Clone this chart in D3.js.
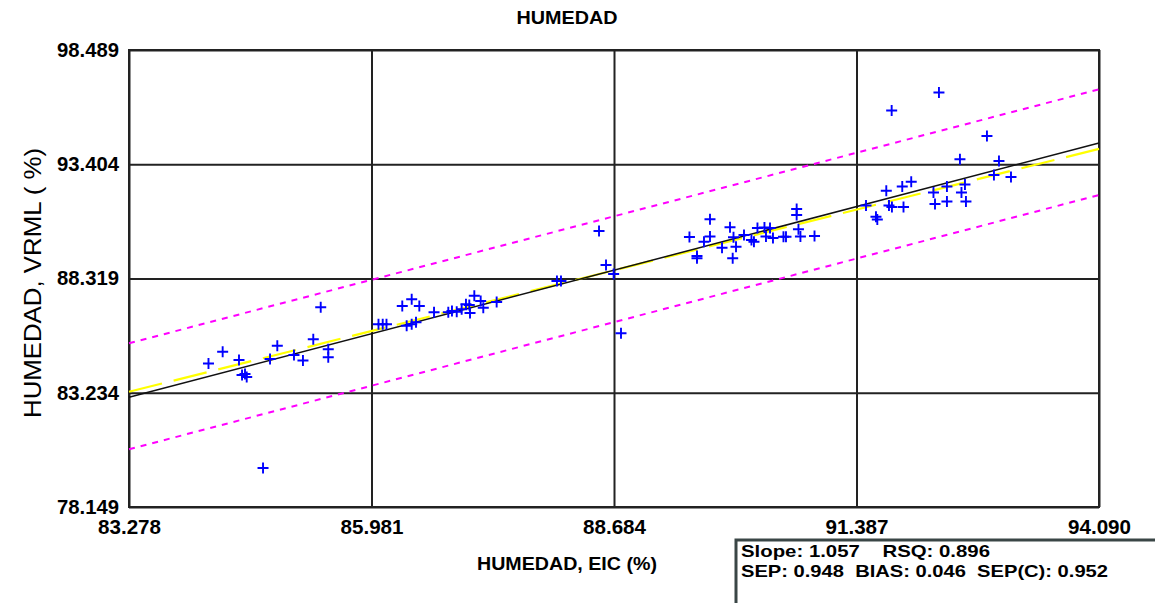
<!DOCTYPE html>
<html><head><meta charset="utf-8">
<script src="https://cdn.jsdelivr.net/npm/d3@7"></script>
<style>body{margin:0;background:#fff;overflow:hidden}</style>
</head><body>
<svg id="c" width="1155" height="603"></svg>
<script>
// ---- data ----
const xTicks = [83.278, 85.981, 88.684, 91.387, 94.090];
const yTicks = [78.149, 83.234, 88.319, 93.404, 98.489];
const eic = [84.164,84.322,84.504,84.538,84.571,84.590,84.772,84.850,84.931,85.117,85.217,85.332,85.415,85.499,85.499,
  86.059,86.106,86.148,86.324,86.429,86.514,86.373,86.429,86.477,86.678,86.837,86.878,86.931,86.986,87.034,87.071,87.127,87.198,87.227,87.079,87.376,
  88.048,88.093,88.517,88.595,88.680,88.762,
  89.525,89.609,89.609,89.754,89.687,89.754,89.888,89.977,90.016,90.007,90.044,90.133,90.216,90.244,90.283,90.361,90.423,90.378,90.456,90.573,90.601,90.720,90.720,90.740,90.762,90.919,
  91.493,91.604,91.619,91.749,91.782,91.719,91.779,91.897,91.997,91.911,92.306,92.245,92.262,92.395,92.395,92.540,92.557,92.596,92.607,92.841,92.919,92.975,93.109];
const vrml = [84.536,85.061,84.692,84.024,84.068,83.934,79.885,84.736,85.328,84.914,84.669,85.613,87.037,85.168,84.812,
  86.280,86.280,86.280,87.095,87.393,87.095,86.218,86.280,86.370,86.815,86.815,86.872,86.841,86.948,87.171,87.139,87.553,87.317,87.019,86.783,87.273,
  88.208,88.208,90.433,88.920,88.519,85.880,
  90.166,89.320,89.218,90.954,89.957,90.188,89.690,90.598,90.152,89.218,89.734,90.255,90.032,89.957,90.564,90.590,90.564,90.188,90.121,90.179,90.179,91.412,91.145,90.509,90.188,90.210,
  91.568,91.070,90.945,91.568,91.501,92.227,95.796,92.414,92.627,91.501,96.597,92.147,91.635,92.414,91.746,93.624,92.147,92.503,91.746,94.661,92.926,93.549,92.837];
const lineX = [83.278, 94.090];
const regression = [83.03, 94.35];
const identity = [83.278, 94.090];
const upperLimit = [85.435, 96.740];
const lowerLimit = [80.717, 92.035];
const statsLines = ["Slope: 1.057    RSQ: 0.896", "SEP: 0.948  BIAS: 0.046  SEP(C): 0.952"];

// ---- chart ----
const svg = d3.select("#c");
const L = 129, R = 1099, T = 50, B = 507;
const x = d3.scaleLinear().domain([xTicks[0], xTicks[4]]).range([L, R]);
const y = d3.scaleLinear().domain([yTicks[0], yTicks[4]]).range([B, T]);
const fmt = d3.format(".3f");
const FONT = "'Liberation Sans', Arial, sans-serif";

svg.append("rect").attr("width",1155).attr("height",603).attr("fill","#fff");

// x axis with grid
const xa = svg.append("g").attr("transform",`translate(0,${B})`)
  .call(d3.axisBottom(x).tickValues(xTicks).tickSize(-(B-T)).tickPadding(13).tickFormat(fmt));
xa.select(".domain").remove();
xa.selectAll("line").attr("stroke","#222").attr("stroke-width",2);
xa.selectAll("text").attr("font-family",FONT).attr("font-weight","bold").attr("font-size",20)
  .attr("textLength",63).attr("lengthAdjust","spacingAndGlyphs").attr("fill","#000");

const ya = svg.append("g").attr("transform",`translate(${L},0)`)
  .call(d3.axisLeft(y).tickValues(yTicks).tickSize(-(R-L)).tickPadding(10).tickFormat(fmt));
ya.select(".domain").remove();
ya.selectAll("line").attr("stroke","#222").attr("stroke-width",2);
ya.selectAll("text").attr("font-family",FONT).attr("font-weight","bold").attr("font-size",20)
  .attr("textLength",62).attr("lengthAdjust","spacingAndGlyphs").attr("fill","#000");

svg.append("rect").attr("x",L).attr("y",T).attr("width",R-L).attr("height",B-T)
  .attr("fill","none").attr("stroke","#222").attr("stroke-width",2);

const line = d3.line().x(d=>x(d[0])).y(d=>y(d[1]));
const pts = arr => lineX.map((v,i)=>[v,arr[i]]);

svg.append("path").attr("d",line(pts(upperLimit))).attr("fill","none")
  .attr("stroke","#ff00ff").attr("stroke-width",2).attr("stroke-dasharray","6,6");
svg.append("path").attr("d",line(pts(lowerLimit))).attr("fill","none")
  .attr("stroke","#ff00ff").attr("stroke-width",2).attr("stroke-dasharray","6,6");
svg.append("path").attr("d",line(pts(identity))).attr("fill","none")
  .attr("stroke","#ffff00").attr("stroke-width",2.2).attr("stroke-dasharray","34,12");
svg.append("path").attr("d",line(pts(regression))).attr("fill","none")
  .attr("stroke","#111").attr("stroke-width",1.5);

svg.append("g").selectAll("path").data(eic.map((v,i)=>[v,vrml[i]])).join("path")
  .attr("transform",d=>`translate(${x(d[0])},${y(d[1])})`)
  .attr("d","M-5.5,0H5.5M0,-5.5V5.5").attr("stroke","#0000ff").attr("stroke-width",1.9).attr("fill","none");

// titles
svg.append("text").attr("x",567).attr("y",24).attr("text-anchor","middle")
  .attr("font-family",FONT).attr("font-weight","bold").attr("font-size",18)
  .attr("textLength",101).attr("lengthAdjust","spacingAndGlyphs").text("HUMEDAD");
svg.append("text").attr("x",567).attr("y",570).attr("text-anchor","middle")
  .attr("font-family",FONT).attr("font-weight","bold").attr("font-size",19)
  .attr("textLength",180).attr("lengthAdjust","spacingAndGlyphs").text("HUMEDAD, EIC (%)");
svg.append("text").attr("transform","translate(41,283) rotate(-90)").attr("text-anchor","middle")
  .attr("font-family",FONT).attr("font-size",24)
  .attr("textLength",270).attr("lengthAdjust","spacingAndGlyphs").text("HUMEDAD, VRML ( %)");

// stats box
svg.append("rect").attr("x",736).attr("y",540).attr("width",430).attr("height",80)
  .attr("fill","#fff").attr("stroke","#3a4646").attr("stroke-width",3);
const widths=[249,367];
svg.selectAll(".st").data(statsLines).join("text").attr("class","st")
  .attr("x",741).attr("y",(d,i)=>557+i*20)
  .attr("font-family",FONT).attr("font-weight","bold").attr("font-size",17)
  .style("white-space","pre").attr("xml:space","preserve")
  .attr("textLength",(d,i)=>widths[i]).attr("lengthAdjust","spacingAndGlyphs")
  .text(d=>d);
</script>
</body></html>
